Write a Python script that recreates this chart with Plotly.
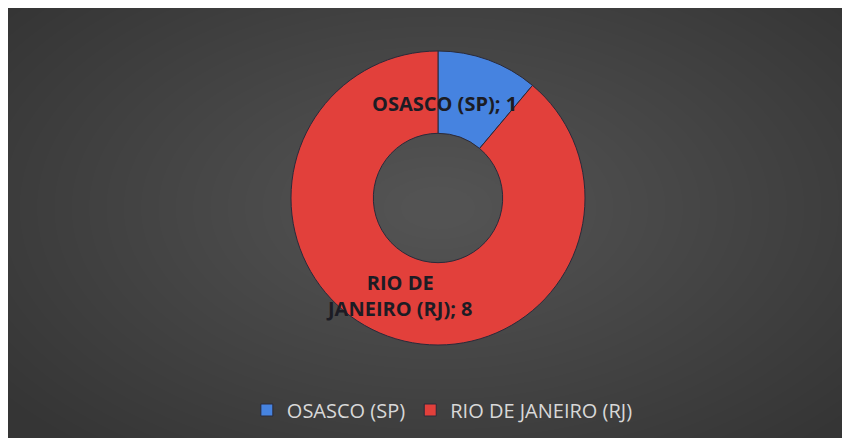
import plotly.graph_objects as go

labels = ["OSASCO (SP)", "RIO DE JANEIRO (RJ)"]
values = [1, 8]
colors = ["#4683e0", "#e2403b"]
label_texts = ["<b>OSASCO (SP); 1</b>", "<b>RIO DE<br>JANEIRO (RJ); 8</b>"]

W, H = 850, 438
cx, cy, r = 430, 190, 147  # page is offset by the 8px body margin

fig = go.Figure()
fig.add_trace(go.Pie(
    labels=labels, values=values, sort=False, direction="clockwise", rotation=0,
    hole=0.44, textinfo="none", hoverinfo="label+value",
    marker=dict(colors=colors, line=dict(color="#2a2a3a", width=1)),
    domain=dict(x=[(cx - r) / W, (cx + r) / W], y=[(H - cy - r) / H, (H - cy + r) / H]),
))

shapes = []
n = 30
for i in range(n):
    f = 1 - i / n
    rx = 520 * f + 20
    ry = 300 * f + 12
    shapes.append(dict(type="circle", xref="paper", yref="paper",
                       x0=(cx - rx) / W, x1=(cx + rx) / W,
                       y0=(H - 200 - ry) / H, y1=(H - 200 + ry) / H,
                       fillcolor="rgba(255,255,255,0.009)", line=dict(width=0), layer="below"))

annotations = [
    dict(x=436 / W, y=1 - 80 / H, xref="paper", yref="paper", text=label_texts[0],
         showarrow=False, font=dict(size=20, color="#1c1c24", family="Open Sans")),
    dict(x=391 / W, y=1 - 287 / H, xref="paper", yref="paper", text=label_texts[1],
         showarrow=False, font=dict(size=20, color="#1c1c24", family="Open Sans")),
]

fig.update_layout(
    width=W, height=H, margin=dict(l=0, r=0, t=0, b=0),
    paper_bgcolor="#353535", plot_bgcolor="#353535",
    shapes=shapes, annotations=annotations,
    showlegend=True,
    legend=dict(orientation="h", x=0.511, xanchor="center", y=1 - 402 / H, yanchor="middle",
                font=dict(size=20, color="#d8d8d8", family="Open Sans"),
                bgcolor="rgba(0,0,0,0)", itemwidth=30),
)

fig.write_html("out.html")
